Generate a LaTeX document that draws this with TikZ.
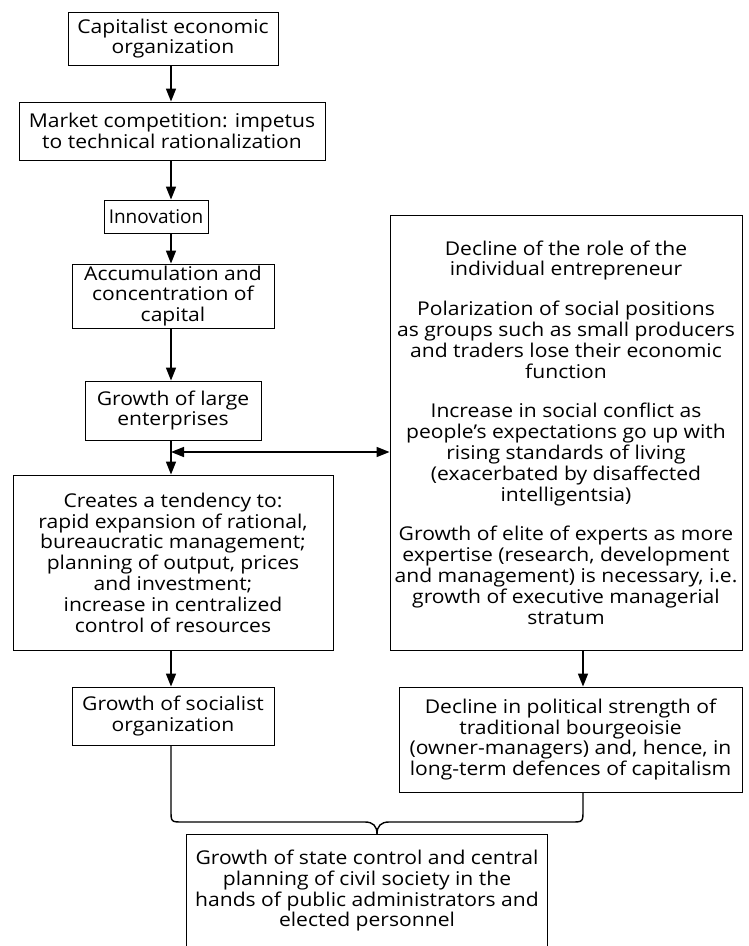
\documentclass[tikz,border=0pt]{standalone}
\usepackage{fontspec}
\setmainfont{Open Sans}[FakeStretch=1.11]
\newfontfamily\innfont{Open Sans}
\usetikzlibrary{arrows.meta}
\begin{document}
\begin{tikzpicture}[x=1pt,y=-1pt,
  box/.style={draw, line width=0.9pt, align=center, inner sep=0pt, font=\fontsize{19}{20.8}\selectfont},
  arr/.style={line width=1.5pt, -{Triangle[length=13pt,width=10pt]}},
  dbl/.style={line width=1.5pt, {Triangle[length=13pt,width=10pt]}-{Triangle[length=13pt,width=10pt]}},
  brace/.style={line width=1.4pt}]
\useasboundingbox (0,0) rectangle (749,946);
\coordinate (ax) at (171,0);
\coordinate (rx) at (583,0);
\coordinate (tip) at (377,834);
\node[box, minimum width=210pt, minimum height=53pt] (b1) at (173,38.5) {Capitalist economic\\organization};
\node[box, minimum width=306pt, minimum height=58pt] (b2) at (172,131) {Market competition: impetus\\to technical rationalization};
\node[box, minimum width=104pt, minimum height=33pt, font=\innfont\fontsize{19}{20.8}\selectfont] (b3) at (156,216.5) {Innovation};
\node[box, minimum width=202pt, minimum height=64pt] (b4) at (173,296) {Accumulation and\\concentration of\\capital};
\node[box, minimum width=176pt, minimum height=59pt] (b5) at (173,410.5) {Growth of large\\enterprises};
\node[box, minimum width=320pt, minimum height=175pt] (b6) at (173,562.5) {Creates a tendency to:\\rapid expansion of rational,\\bureaucratic management;\\planning of output, prices\\and investment;\\increase in centralized\\control of resources};
\node[box, minimum width=202pt, minimum height=58pt] (b7) at (173,716) {Growth of socialist\\organization};
\node[box, minimum width=352pt, minimum height=435pt] (r) at (566,432.5) {Decline of the role of the\\individual entrepreneur\\[19pt]Polarization of social positions\\as groups such as small producers\\and traders lose their economic\\function\\[19pt]Increase in social conflict as\\people’s expectations go up with\\rising standards of living\\(exacerbated by disaffected\\intelligentsia)\\[19pt]Growth of elite of experts as more\\expertise (research, development\\and management) is necessary, i.e.\\growth of executive managerial\\stratum};
\node[box, minimum width=343pt, minimum height=105pt] (b8) at (570.5,739.5) {Decline in political strength of\\traditional bourgeoisie\\(owner-managers) and, hence, in\\long-term defences of capitalism};
\node[box, draw=none, anchor=north, minimum width=360pt, text depth=0pt] (b9) at (367,834) {\rule{0pt}{30pt}Growth of state control and central\\planning of civil society in the\\hands of public administrators and\\elected personnel};
\draw[line width=0.9pt] (b9.north west |- 0,946) -- (b9.north west) -- (b9.north east) -- (b9.north east |- 0,946);
\draw[arr] (b1.south -| ax) -- (b2.north -| ax);
\draw[arr] (b2.south -| ax) -- (b3.north -| ax);
\draw[arr] (b3.south -| ax) -- (b4.north -| ax);
\draw[arr] (b4.south -| ax) -- (b5.north -| ax);
\draw[arr] (b5.south -| ax) -- (b6.north -| ax);
\draw[arr] (b6.south -| ax) -- (b7.north -| ax);
\draw[dbl] (ax |- 0,452) -- (r.west |- 0,452);
\draw[arr] (r.south -| rx) -- (b8.north -| rx);
\draw[brace] (b7.south -| ax) -- (171,810) .. controls (171,822) .. (183,822) -- (365,822) .. controls (373,822) and (377,826) .. (tip);
\draw[brace] (b8.south -| rx) -- (583,810) .. controls (583,822) .. (571,822) -- (389,822) .. controls (381,822) and (377,826) .. (tip);
\end{tikzpicture}
\end{document}
